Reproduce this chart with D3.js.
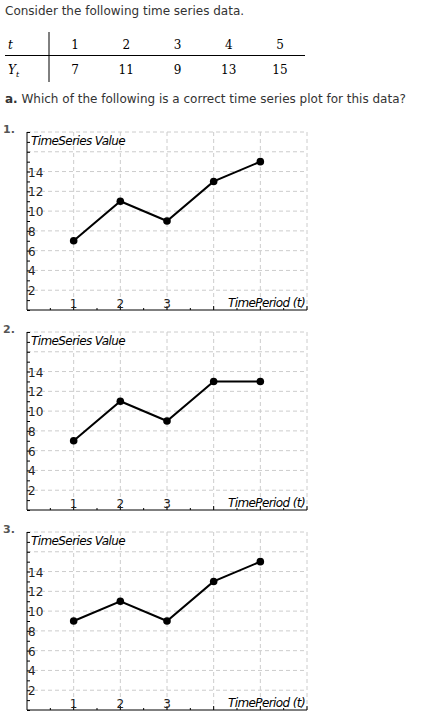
<!DOCTYPE html>
<html><head><meta charset="utf-8">
<script src="https://cdn.jsdelivr.net/npm/d3@7"></script>
<style>
body{margin:0;background:#fff;font-family:Verdana,"DejaVu Sans",sans-serif;}
</style></head><body>
<script>
const periods = [1, 2, 3, 4, 5];
const actual = [7, 11, 9, 13, 15];
const options = [
  [7, 11, 9, 13, 15],
  [7, 11, 9, 13, 13],
  [9, 11, 9, 13, 15]
];
const yTicks = [2, 4, 6, 8, 10, 12, 14];
const xTickLabels = [1, 2, 3];

const svg = d3.select("body").append("svg").attr("width", 446).attr("height", 724);

svg.append("text").attr("x", 5).attr("y", 15).attr("font-size", 12).attr("fill", "#333")
  .text("Consider the following time series data.");

// table
const tx = d3.scalePoint().domain(periods).range([75, 280]);
const serif = "'DejaVu Serif',serif";
svg.append("text").attr("x", 8).attr("y", 49).attr("font-family", serif).attr("font-style", "italic").attr("font-size", 12).text("t");
svg.append("text").attr("x", 8).attr("y", 74).attr("font-family", serif).attr("font-style", "italic").attr("font-size", 12).text("Y");
svg.append("text").attr("x", 16).attr("y", 77).attr("font-family", serif).attr("font-style", "italic").attr("font-size", 8).text("t");
svg.append("line").attr("x1", 49).attr("x2", 49).attr("y1", 32).attr("y2", 82).attr("stroke", "#000");
svg.append("line").attr("x1", 5).attr("x2", 305).attr("y1", 55.5).attr("y2", 55.5).attr("stroke", "#000");
svg.selectAll(".th").data(periods).enter().append("text")
  .attr("x", d => tx(d)).attr("y", 49).attr("text-anchor", "middle")
  .attr("font-family", serif).attr("font-size", 12).text(d => d);
svg.selectAll(".tv").data(actual).enter().append("text")
  .attr("x", (d, i) => tx(periods[i])).attr("y", 74).attr("text-anchor", "middle")
  .attr("font-family", serif).attr("font-size", 12).text(d => d);

svg.append("text").attr("x", 5).attr("y", 103).attr("font-size", 12).attr("fill", "#333")
  .html('<tspan font-weight="bold">a.</tspan> Which of the following is a correct time series plot for this data?');

const x = d3.scaleLinear().domain([0, 6]).range([27, 307]);

options.forEach((vals, k) => {
  const off = k * 200;
  const y = d3.scaleLinear().domain([0, 18]).range([310 + off, 132 + off]);
  const g = svg.append("g");

  g.append("text").attr("x", 3).attr("y", 133 + off).attr("font-size", 11).attr("font-weight", "bold")
    .attr("fill", "#555").text((k + 1) + ".");

  // grid
  g.selectAll(".gx").data(periods.concat([6])).enter().append("line")
    .attr("x1", d => x(d)).attr("x2", d => x(d)).attr("y1", y(18)).attr("y2", y(0))
    .attr("stroke", "#ccc").attr("stroke-dasharray", "4,3");
  g.selectAll(".gy").data(yTicks.concat([16, 18])).enter().append("line")
    .attr("x1", x(0)).attr("x2", x(6)).attr("y1", d => y(d)).attr("y2", d => y(d))
    .attr("stroke", "#ccc").attr("stroke-dasharray", "4,3");

  // axes
  const ya = g.append("g").attr("transform", `translate(${x(0)},0)`)
    .call(d3.axisRight(y).tickValues(d3.range(0, 18.5, 1)).tickSize(3).tickFormat(""));
  ya.select(".domain").remove();
  g.append("line").attr("x1", x(0)).attr("x2", x(0)).attr("y1", y(18)).attr("y2", y(0)).attr("stroke", "#000");
  g.append("line").attr("x1", x(0)).attr("x2", x(6)).attr("y1", y(0)).attr("y2", y(0)).attr("stroke", "#000");
  g.selectAll(".xt").data(d3.range(0.5, 6.01, 0.5)).enter().append("line")
    .attr("x1", d => x(d)).attr("x2", d => x(d)).attr("y1", y(0)).attr("y2", d => y(0) - (d % 1 ? 2 : 4))
    .attr("stroke", "#000");

  g.selectAll(".yl").data(yTicks).enter().append("text")
    .attr("x", x(0) + 1).attr("y", d => y(d) + 5).attr("font-size", 12).attr("fill", "#222").text(d => d);
  g.selectAll(".xl").data(xTickLabels).enter().append("text")
    .attr("x", d => x(d)).attr("y", y(0) - 2).attr("text-anchor", "middle")
    .attr("font-size", 12).attr("fill", "#222").text(d => d);

  g.append("text").attr("x", x(0) + 4).attr("y", y(18) + 13).attr("font-size", 12)
    .attr("font-style", "italic").attr("letter-spacing", -0.6).text("TimeSeries Value");
  g.append("text").attr("x", x(6) - 2).attr("y", y(0) - 3).attr("text-anchor", "end").attr("font-size", 12)
    .attr("font-style", "italic").attr("letter-spacing", -0.6).text("TimePeriod (t)");

  const line = d3.line().x((d, i) => x(periods[i])).y(d => y(d));
  g.append("path").datum(vals).attr("d", line).attr("fill", "none").attr("stroke", "#000").attr("stroke-width", 2);
  g.selectAll(".pt").data(vals).enter().append("circle")
    .attr("cx", (d, i) => x(periods[i])).attr("cy", d => y(d)).attr("r", 3.8).attr("fill", "#000");
});
</script>
</body></html>
